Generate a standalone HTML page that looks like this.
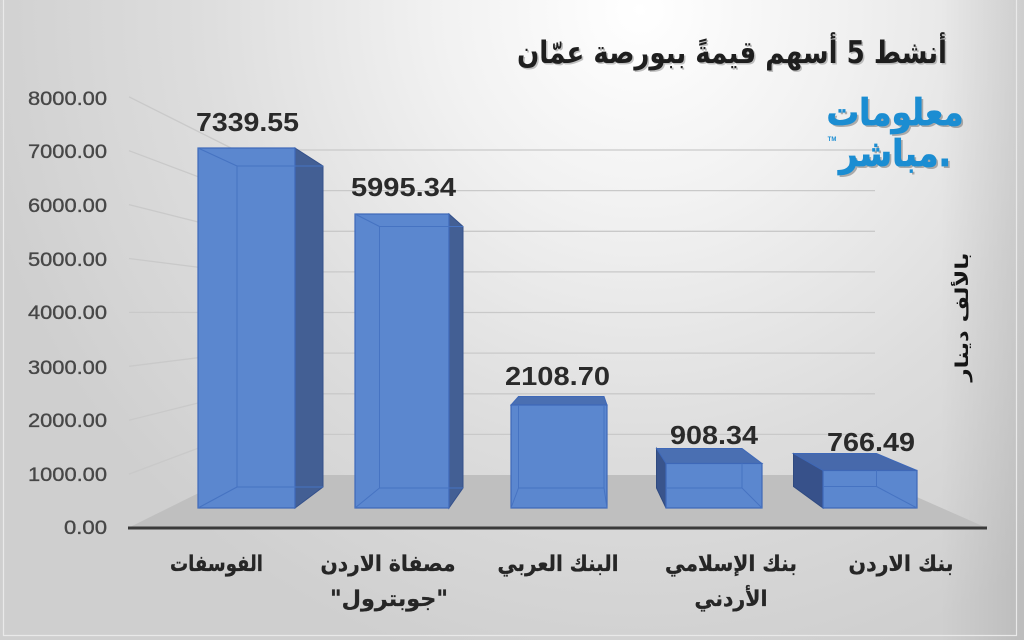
<!DOCTYPE html>
<html>
<head>
<meta charset="utf-8">
<style>
  html, body { margin: 0; padding: 0; background: #d6d6d6; }
  svg { display: block; }
  .ar { font-family: "DejaVu Sans", sans-serif; font-weight: bold; }
  .num { font-family: "Liberation Sans", sans-serif; }
</style>
</head>
<body>
<svg width="1024" height="640" viewBox="0 0 1024 640" xmlns="http://www.w3.org/2000/svg">
  <defs>
    <radialGradient id="bg" gradientUnits="userSpaceOnUse" cx="640" cy="10" r="680">
      <stop offset="0" stop-color="#ffffff"/>
      <stop offset="0.3" stop-color="#f1f1f1"/>
      <stop offset="0.65" stop-color="#dddddd"/>
      <stop offset="1" stop-color="#cfcfcf"/>
    </radialGradient>
    <linearGradient id="rv" x1="0" y1="0" x2="1" y2="0">
      <stop offset="0" stop-color="#000" stop-opacity="0"/>
      <stop offset="1" stop-color="#000" stop-opacity="0.09"/>
    </linearGradient>
  </defs>

  <!-- background -->
  <rect x="0" y="0" width="1024" height="640" fill="url(#bg)"/>
  <rect x="940" y="0" width="84" height="640" fill="url(#rv)"/>
  <rect x="3.5" y="-2" width="1013" height="637.5" fill="none" stroke="#e9e9e9" stroke-width="1.2"/>

  <!-- floor -->
  <polygon points="128,528 235,475 867,475 987,528" fill="#bfbfbf"/>

  <!-- side wall gridlines -->
  <g stroke="#c9c9c9" stroke-width="1.3" fill="none">
    <line x1="129" y1="474.1" x2="235" y2="434.4"/>
    <line x1="129" y1="420.2" x2="235" y2="393.8"/>
    <line x1="129" y1="366.3" x2="235" y2="353.1"/>
    <line x1="129" y1="312.4" x2="235" y2="312.5"/>
    <line x1="129" y1="258.5" x2="235" y2="271.9"/>
    <line x1="129" y1="204.6" x2="235" y2="231.3"/>
    <line x1="129" y1="150.7" x2="235" y2="190.6"/>
    <line x1="129" y1="96.8" x2="235" y2="150"/>
    <!-- back wall -->
    <line x1="235" y1="434.4" x2="875" y2="434.4"/>
    <line x1="235" y1="393.8" x2="875" y2="393.8"/>
    <line x1="235" y1="353.1" x2="875" y2="353.1"/>
    <line x1="235" y1="312.5" x2="875" y2="312.5"/>
    <line x1="235" y1="271.9" x2="875" y2="271.9"/>
    <line x1="235" y1="231.3" x2="875" y2="231.3"/>
    <line x1="235" y1="190.6" x2="875" y2="190.6"/>
    <line x1="235" y1="150" x2="875" y2="150"/>
  </g>

  <!-- baseline -->
  <line x1="128" y1="528" x2="987" y2="528" stroke="#3a3a3a" stroke-width="3"/>

  <!-- Bar 1 -->
  <g>
    <polygon points="295,148 323,166 323,487 295,508" fill="#435f94" stroke="#34508a" stroke-width="1"/>
    <rect x="198" y="148" width="97" height="360" fill="#5b87cf" stroke="#3e68b8" stroke-width="1.2"/>
    <g stroke="#4673c2" stroke-width="1" fill="none">
      <polyline points="323,166 237,166 237,487 323,487"/>
      <line x1="198" y1="148" x2="237" y2="166"/>
      <line x1="198" y1="508" x2="237" y2="487"/>
    </g>
  </g>

  <!-- Bar 2 -->
  <g>
    <polygon points="449,214 463,226.5 463,488 449,508" fill="#435f94" stroke="#34508a" stroke-width="1"/>
    <rect x="355" y="214" width="94" height="294" fill="#5b87cf" stroke="#3e68b8" stroke-width="1.2"/>
    <g stroke="#4673c2" stroke-width="1" fill="none">
      <polyline points="463,226.5 379.5,226.5 379.5,488 463,488"/>
      <line x1="355" y1="214" x2="379.5" y2="226.5"/>
      <line x1="355" y1="508" x2="379.5" y2="488"/>
    </g>
  </g>

  <!-- Bar 3 -->
  <g>
    <polygon points="511,405 607,405 604,396.5 518.5,396.5" fill="#4a6fb2" stroke="#3e68b8" stroke-width="1"/>
    <rect x="511" y="405" width="96" height="103" fill="#5b87cf" stroke="#3e68b8" stroke-width="1.2"/>
    <g stroke="#4673c2" stroke-width="1" fill="none">
      <polyline points="518.5,405 518.5,488 604,488 604,405"/>
      <line x1="511" y1="508" x2="518.5" y2="488"/>
      <line x1="607" y1="508" x2="604" y2="488"/>
    </g>
  </g>

  <!-- Bar 4 -->
  <g>
    <polygon points="656.5,448.5 666,463.5 666,508 656.5,488" fill="#39548c" stroke="#2f4a80" stroke-width="1"/>
    <polygon points="656.5,448.5 742,448.5 762,463.5 666,463.5" fill="#4a6fb2" stroke="#3e68b8" stroke-width="1"/>
    <rect x="666" y="463.5" width="96" height="44.5" fill="#5b87cf" stroke="#3e68b8" stroke-width="1.2"/>
    <g stroke="#4673c2" stroke-width="1" fill="none">
      <polyline points="742,463.5 742,488 666,488"/>
      <line x1="762" y1="508" x2="742" y2="488"/>
    </g>
  </g>

  <!-- Bar 5 -->
  <g>
    <polygon points="793.5,453.5 823,470.5 823,508 793.5,486.5" fill="#37518a" stroke="#2f4a80" stroke-width="1"/>
    <polygon points="793.5,453.5 876.5,453.5 917,470.5 823,470.5" fill="#4769ab" stroke="#3e68b8" stroke-width="1"/>
    <rect x="823" y="470.5" width="94" height="37.5" fill="#5b87cf" stroke="#3e68b8" stroke-width="1.2"/>
    <g stroke="#4673c2" stroke-width="1" fill="none">
      <polyline points="876.5,470.5 876.5,486.5 823,486.5"/>
      <line x1="917" y1="508" x2="876.5" y2="486.5"/>
    </g>
  </g>

  <!-- Y axis labels -->
  <g class="num" font-size="19.5" fill="#474747" stroke="#474747" stroke-width="0.35" text-anchor="end">
    <text x="107" y="105" textLength="79" lengthAdjust="spacingAndGlyphs">8000.00</text>
    <text x="107" y="158" textLength="79" lengthAdjust="spacingAndGlyphs">7000.00</text>
    <text x="107" y="212" textLength="79" lengthAdjust="spacingAndGlyphs">6000.00</text>
    <text x="107" y="266" textLength="79" lengthAdjust="spacingAndGlyphs">5000.00</text>
    <text x="107" y="319" textLength="79" lengthAdjust="spacingAndGlyphs">4000.00</text>
    <text x="107" y="374" textLength="79" lengthAdjust="spacingAndGlyphs">3000.00</text>
    <text x="107" y="427" textLength="79" lengthAdjust="spacingAndGlyphs">2000.00</text>
    <text x="107" y="481" textLength="79" lengthAdjust="spacingAndGlyphs">1000.00</text>
    <text x="107" y="534" textLength="43" lengthAdjust="spacingAndGlyphs">0.00</text>
  </g>

  <!-- value labels -->
  <g class="num" font-size="26" font-weight="bold" fill="#2a2a2a" text-anchor="middle">
    <text x="247.5" y="131" textLength="103" lengthAdjust="spacingAndGlyphs">7339.55</text>
    <text x="403.5" y="196" textLength="105" lengthAdjust="spacingAndGlyphs">5995.34</text>
    <text x="557.5" y="385" textLength="105" lengthAdjust="spacingAndGlyphs">2108.70</text>
    <text x="714" y="444" textLength="88" lengthAdjust="spacingAndGlyphs">908.34</text>
    <text x="871" y="451" textLength="88" lengthAdjust="spacingAndGlyphs">766.49</text>
  </g>

  <!-- category labels -->
  <g class="ar" font-size="22" fill="#262626" stroke="#262626" stroke-width="0.3" text-anchor="middle">
    <text x="216.5" y="571" textLength="93" lengthAdjust="spacingAndGlyphs">الفوسفات</text>
    <text x="388" y="571" textLength="135" lengthAdjust="spacingAndGlyphs">مصفاة الاردن</text>
    <text x="389" y="606" textLength="118" lengthAdjust="spacingAndGlyphs">"جوبترول"</text>
    <text x="558" y="571" textLength="121" lengthAdjust="spacingAndGlyphs">البنك العربي</text>
    <text x="731" y="571" textLength="132" lengthAdjust="spacingAndGlyphs">بنك الإسلامي</text>
    <text x="731" y="606" textLength="73" lengthAdjust="spacingAndGlyphs">الأردني</text>
    <text x="901" y="571" textLength="105" lengthAdjust="spacingAndGlyphs">بنك الاردن</text>
  </g>

  <!-- title -->
  <g class="ar" font-size="31" text-anchor="middle">
    <text x="733.5" y="64.5" fill="#9a9a9a" opacity="0.6" textLength="430" lengthAdjust="spacingAndGlyphs">أنشط 5  أسهم قيمةً ببورصة عمّان</text>
    <text x="732" y="63" fill="#1e1e1e" textLength="430" lengthAdjust="spacingAndGlyphs">أنشط 5  أسهم قيمةً ببورصة عمّان</text>
  </g>

  <!-- logo -->
  <g class="ar" text-anchor="middle">
    <text x="897" y="127" font-size="37" fill="#6a6a6a" opacity="0.5" textLength="137" lengthAdjust="spacingAndGlyphs">معلومات</text>
    <text x="895" y="125" font-size="37" fill="#1b8dd2" stroke="#1b8dd2" stroke-width="0.8" textLength="137" lengthAdjust="spacingAndGlyphs">معلومات</text>
    <text x="897" y="168" font-size="37" fill="#6a6a6a" opacity="0.5" textLength="112" lengthAdjust="spacingAndGlyphs">مباشر.</text>
    <text x="895" y="166" font-size="37" fill="#1b8dd2" stroke="#1b8dd2" stroke-width="0.8" textLength="112" lengthAdjust="spacingAndGlyphs">مباشر.</text>
    <text x="832" y="141" font-size="6" fill="#1b8dd2" font-family="Liberation Sans, sans-serif">TM</text>
  </g>

  <!-- vertical unit label -->
  <text class="ar" font-size="18" fill="#151515" text-anchor="middle" textLength="129" lengthAdjust="spacingAndGlyphs" transform="translate(968,317) rotate(-90)">بالألف دينار</text>
</svg>
</body>
</html>
